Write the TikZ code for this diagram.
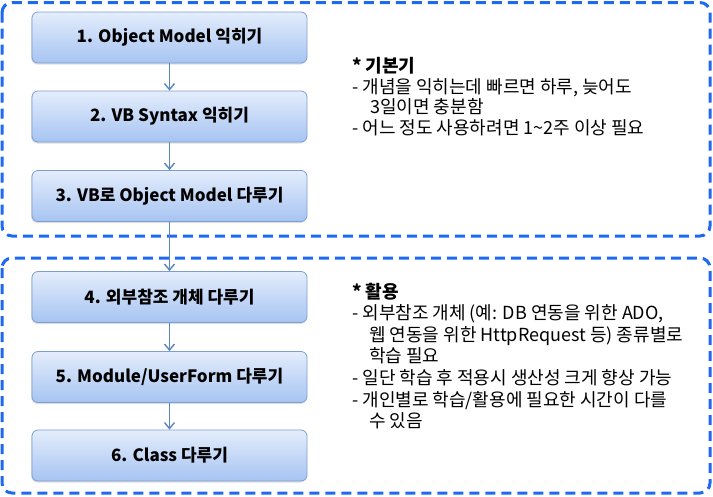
\documentclass[tikz,border=0pt]{standalone}
\usepackage{fontspec}
\setmainfont{Noto Sans CJK KR}
\usetikzlibrary{arrows.meta,shadows}
\definecolor{dashblue}{RGB}{30,105,240}
\definecolor{boxtop}{RGB}{228,237,252}
\definecolor{boxbot}{RGB}{166,196,242}
\definecolor{boxline}{RGB}{125,158,210}
\definecolor{arrowblue}{RGB}{90,134,192}
\tikzset{
  stepbox/.style={draw=boxline, line width=0.8pt, rounded corners=6pt,
    top color=boxtop, bottom color=boxbot, minimum width=275pt, minimum height=51pt,
    inner sep=0pt, font=\fontsize{17}{19}\selectfont\bfseries,
    drop shadow={shadow xshift=-0.8pt, shadow yshift=-1.5pt, opacity=0.25}},
  group/.style={draw=dashblue, line width=3pt, dash pattern=on 10pt off 6pt, rounded corners=10pt},
  flow/.style={draw=arrowblue, line width=1.4pt, -{Straight Barb[length=6pt,width=10pt,line width=1.4pt]}},
  note/.style={anchor=base west, inner sep=0pt, font=\fontsize{18}{20}\selectfont},
}
\begin{document}
\begin{tikzpicture}[x=1pt,y=-1pt]
\useasboundingbox (0,0) rectangle (713,496);
\draw[group] (2,2.5) rectangle (710,236);
\draw[group] (2,258) rectangle (710,493);
\node[stepbox] (b1) at (169.5,37.5) {1. Object Model 익히기};
\node[stepbox] (b2) at (169.5,116.5) {2. VB Syntax 익히기};
\node[stepbox] (b3) at (169.5,196) {3. VB로 Object Model 다루기};
\node[stepbox] (b4) at (169.5,297) {4. 외부참조 개체 다루기};
\node[stepbox] (b5) at (169.5,377) {5. Module/UserForm 다루기};
\node[stepbox] (b6) at (169.5,455.5) {6. Class 다루기};
\draw[flow] (b1) -- (b2);
\draw[flow] (b2) -- (b3);
\draw[flow] (b3) -- (b4);
\draw[flow] (b4) -- (b5);
\draw[flow] (b5) -- (b6);
\node[note] (n1) at (352,72) {\bfseries * 기본기};
\node[note] (n2) at (352,93) {- 개념을 익히는데 빠르면 하루, 늦어도};
\node[note] (n3) at (370,113) {3일이면 충분함};
\node[note] (n4) at (352,134) {- 어느 정도 사용하려면 1\textasciitilde 2주 이상 필요};
\node[note] (m1) at (352,298) {\bfseries * 활용};
\node[note] (m2) at (352,319) {- 외부참조 개체 (예: DB 연동을 위한 ADO,};
\node[note] (m3) at (369,341) {웹 연동을 위한 HttpRequest 등) 종류별로};
\node[note] (m4) at (369,362) {학습 필요};
\node[note] (m5) at (352,384) {- 일단 학습 후 적용시 생산성 크게 향상 가능};
\node[note] (m6) at (352,406) {- 개인별로 학습/활용에 필요한 시간이 다를};
\node[note] (m7) at (369,427) {수 있음};
\end{tikzpicture}
\end{document}
